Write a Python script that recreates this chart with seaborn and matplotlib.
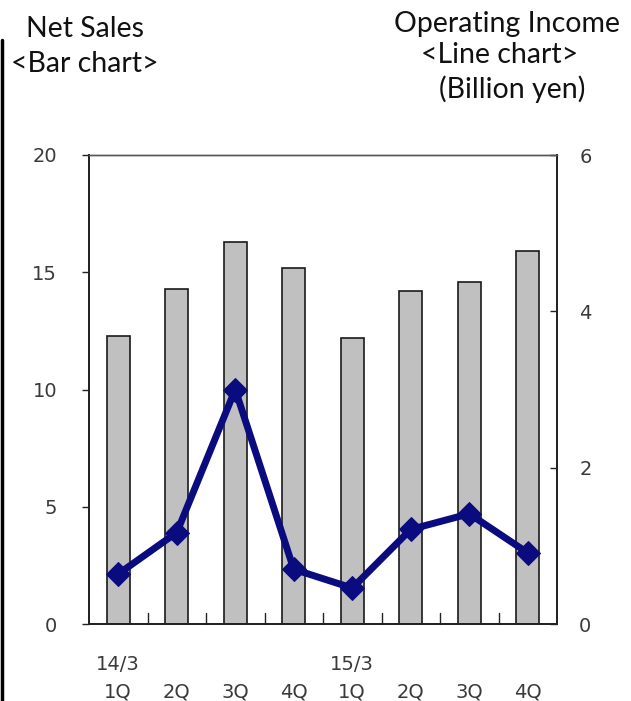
import numpy as np
import pandas as pd
import matplotlib
matplotlib.use("Agg")
import matplotlib.pyplot as plt
import seaborn as sns

# Quarterly results
quarters = ["1Q", "2Q", "3Q", "4Q", "1Q", "2Q", "3Q", "4Q"]
fiscal_year = ["14/3", "", "", "", "15/3", "", "", ""]
net_sales = [12.3, 14.3, 16.3, 15.2, 12.2, 14.2, 14.6, 15.9]
operating_income = [0.64, 1.17, 3.0, 0.70, 0.46, 1.21, 1.41, 0.91]
left_ticks = [0, 5, 10, 15, 20]
right_ticks = [0, 2, 4, 6]

sns.set_theme(style="white")
plt.rcParams["font.family"] = ["DejaVu Sans"]

W, H = 631, 701
fig = plt.figure(figsize=(W / 100, H / 100), dpi=100)

x0, x1, y0, y1 = 89, 557, 155, 624
ax = fig.add_axes([x0 / W, 1 - y1 / H, (x1 - x0) / W, (y1 - y0) / H])

labels = [f"{q}#{i}" for i, q in enumerate(quarters)]
df = pd.DataFrame({"period": labels, "sales": net_sales, "income": operating_income})

sns.barplot(data=df, x="period", y="sales", ax=ax, color="#c0c0c0",
            saturation=1, width=0.39, edgecolor="#1a1a1a", linewidth=1.2,
            zorder=1)
ax.set_xlim(-0.5, len(quarters) - 0.5)
ax.set_ylim(0, 20)
ax.set_yticks(left_ticks)
ax.set_xlabel("")
ax.set_ylabel("")

ax2 = ax.twinx()
sns.lineplot(x=np.arange(len(quarters)), y=df["income"], ax=ax2,
             color="#0b0b80", linewidth=5, marker="D", markersize=12,
             markeredgecolor="#0b0b80", zorder=3)
ax2.set_ylim(0, 6)
ax2.set_yticks(right_ticks)
ax2.set_ylabel("")
ax2.set_xlim(-0.5, len(quarters) - 0.5)

# category labels with fiscal year above the first quarter of each year
xt = [f"{y}\n{q}" for y, q in zip(fiscal_year, quarters)]
ax.set_xticks(range(len(quarters)))
ax.set_xticklabels(xt, linespacing=1.62)
tick_color = "#3a3a3a"
ax.tick_params(axis="x", length=0, pad=22, labelsize=14, labelcolor=tick_color)
ax.tick_params(axis="y", direction="out", length=5, width=1, color="#222222",
               pad=18, labelsize=14, labelcolor=tick_color, left=True)
ax2.tick_params(axis="y", direction="in", length=5, width=1, color="#222222",
                pad=16, labelsize=14, labelcolor=tick_color, right=True)

# small boundary ticks between categories
for b in np.arange(0.5, len(quarters) - 0.5, 1.0):
    ax.plot([b, b], [0, 0.45], color="#222222", lw=1, zorder=2,
            clip_on=False)

for a in (ax, ax2):
    for s in ("left", "right", "bottom"):
        a.spines[s].set_color("#222222")
        a.spines[s].set_linewidth(1.3)
    a.spines["top"].set_color("#555555")
    a.spines["top"].set_linewidth(1.0)
ax.grid(False)
ax2.grid(False)

title_font = ["Lato", "DejaVu Sans"]
tkw = dict(ha="center", va="baseline", fontsize=20.5, family=title_font,
           color="#111111")
fig.text(85 / W, 1 - 37 / H, "Net Sales", **tkw)
fig.text(85 / W, 1 - 72 / H, "<Bar chart>", **tkw)
fig.text(507 / W, 1 - 32 / H, "Operating Income", **tkw)
fig.text(500 / W, 1 - 63 / H, "<Line chart>", **tkw)
fig.text(512 / W, 1 - 98 / H, "(Billion yen)", **tkw)

# vertical rule at the left margin
fig.add_artist(plt.Line2D([1.5 / W, 1.5 / W], [0, 1 - 40 / H],
                          color="black", lw=2.5))

fig.savefig("out.png", dpi=100, facecolor="white")
